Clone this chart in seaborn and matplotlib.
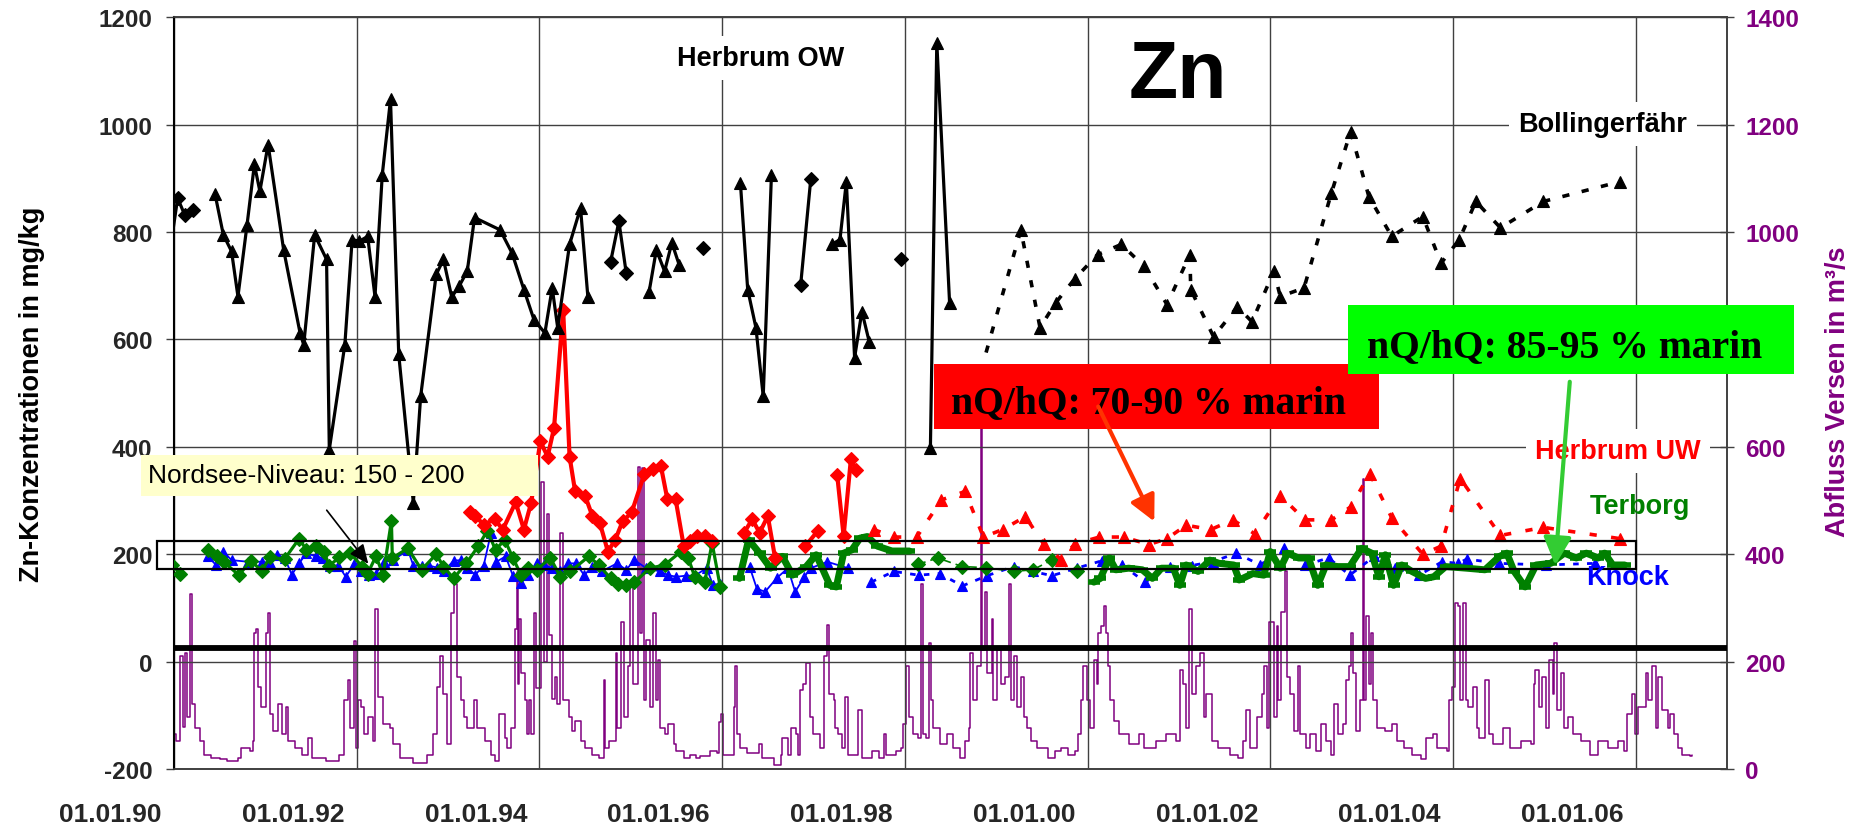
import numpy as np
import pandas as pd
import matplotlib
matplotlib.use("Agg")
import matplotlib.pyplot as plt
import seaborn as sns
from matplotlib.patches import Rectangle, FancyArrowPatch
from matplotlib.transforms import ScaledTranslation

# ---------------- data (decimal years, mg/kg) ----------------
# Herbrum OW (black, solid) segments
ow_d1_x = [1989.96, 1990.04, 1990.12, 1990.21]
ow_d1_y = [770, 863, 831, 842]
ow_t1_x = [1990.45, 1990.54, 1990.63, 1990.70, 1990.80, 1990.88, 1990.94, 1991.03, 1991.20, 1991.38,
           1991.42, 1991.54, 1991.67, 1991.70, 1991.87, 1991.95, 1992.03, 1992.12, 1992.20, 1992.28,
           1992.37, 1992.46, 1992.62, 1992.70, 1992.87, 1992.95, 1993.04, 1993.12, 1993.21, 1993.29,
           1993.57, 1993.70, 1993.83, 1993.94, 1994.06, 1994.14, 1994.20, 1994.33, 1994.45, 1994.53]
ow_t1_y = [870, 795, 764, 680, 814, 926, 876, 963, 767, 612,
           590, 795, 749, 395, 590, 786, 783, 792, 680, 907,
           1047, 572, 296, 494, 721, 749, 679, 699, 727, 827,
           804, 761, 693, 637, 612, 696, 622, 777, 845, 680]
ow_d2_x = [1994.78, 1994.87, 1994.95]
ow_d2_y = [745, 820, 724]
ow_t2_x = [1995.20, 1995.28, 1995.37, 1995.45, 1995.53]
ow_t2_y = [688, 767, 727, 780, 739]
ow_d3_x = [1995.79]
ow_d3_y = [771]
ow_t3_x = [1996.20, 1996.28, 1996.37, 1996.45, 1996.54]
ow_t3_y = [892, 693, 622, 494, 907]
ow_d4_x = [1996.86, 1996.97]
ow_d4_y = [702, 898]
ow_t4_x = [1997.20, 1997.29, 1997.36, 1997.45, 1997.53, 1997.61]
ow_t4_y = [777, 786, 894, 566, 652, 596]
ow_d5_x = [1997.96]
ow_d5_y = [749]
ow_t5_x = [1998.28, 1998.35, 1998.49]
ow_t5_y = [398, 1153, 668]

# Bollingerfaehr (black, dashed)
bf_x = [1998.83, 1999.27, 1999.48, 1999.65, 1999.86, 2000.11, 2000.37, 2000.62, 2000.87, 2001.12,
        2001.13, 2001.38, 2001.64, 2001.80, 2002.04, 2002.11, 2002.37, 2002.67, 2002.88, 2003.08,
        2003.33, 2003.67, 2003.87, 2004.07, 2004.25, 2004.52, 2004.99, 2005.83]
bf_y = [540, 804, 622, 668, 713, 758, 777, 736, 665, 758,
        693, 605, 661, 633, 727, 680, 696, 873, 987, 866,
        792, 829, 742, 786, 857, 808, 857, 894]

# Herbrum UW (red)
uw1_x = [1993.24, 1993.30, 1993.39, 1993.51, 1993.60, 1993.74, 1993.83, 1993.91, 1994.01, 1994.09,
         1994.16, 1994.26, 1994.33, 1994.39, 1994.50, 1994.58, 1994.66, 1994.75, 1994.83, 1994.91,
         1995.01, 1995.15, 1995.24, 1995.33, 1995.40, 1995.49, 1995.58, 1995.65, 1995.72, 1995.81,
         1995.89]
uw1_y = [279, 271, 255, 265, 246, 297, 246, 296, 410, 382,
         435, 655, 382, 318, 309, 271, 259, 205, 227, 261,
         278, 350, 359, 364, 303, 303, 215, 224, 234, 234,
         224]
uw2_x = [1996.24, 1996.33, 1996.41, 1996.50, 1996.58]
uw2_y = [240, 265, 240, 271, 193]
uw3_x = [1996.91, 1997.05]
uw3_y = [215, 244]
uw4_x = [1997.26, 1997.33, 1997.41, 1997.47]
uw4_y = [347, 234, 378, 356]
uw5_x = [1997.66, 1997.88, 1998.13, 1998.40, 1998.66, 1998.86, 1999.07, 1999.32, 1999.52, 1999.71,
         1999.86, 2000.13, 2000.40, 2000.67, 2000.87, 2001.08, 2001.35, 2001.59, 2001.83, 2002.11,
         2002.38, 2002.67, 2002.88, 2003.09, 2003.33, 2003.67, 2003.87, 2004.08, 2004.52, 2004.99,
         2005.83]
uw5_y = [246, 232, 232, 301, 317, 232, 246, 270, 219, 190,
         219, 232, 232, 218, 229, 254, 246, 264, 238, 309,
         264, 264, 288, 350, 268, 200, 215, 341, 235, 250,
         229]

# Terborg (green)
tb0_x = [1989.98, 1990.07]
tb0_y = [180, 164]
tb1_x = [1990.37, 1990.47, 1990.55, 1990.71, 1990.84, 1990.96,
         1991.05, 1991.21, 1991.37, 1991.45, 1991.55, 1991.64, 1991.70, 1991.81, 1991.93,
         1992.06, 1992.12, 1992.21, 1992.29, 1992.38, 1992.39, 1992.56, 1992.71, 1992.87, 1992.95,
         1993.06, 1993.20, 1993.33, 1993.43, 1993.52, 1993.62, 1993.71, 1993.80, 1993.87, 1993.97,
         1994.12, 1994.23, 1994.34, 1994.54, 1994.65, 1994.78, 1994.86, 1994.95,
         1995.04, 1995.21, 1995.37, 1995.55, 1995.63, 1995.70, 1995.81, 1995.89, 1995.98]
tb1_y = [208, 196, 185, 161, 188, 169,
         194, 191, 229, 208, 215, 205, 179, 194, 202,
         177, 164, 196, 162, 262, 193, 211, 171, 200, 177,
         155, 183, 215, 244, 208, 227, 193, 161, 174, 171,
         193, 158, 168, 196, 180, 155, 145, 142,
         148, 174, 180, 205, 193, 158, 148, 221, 139]
tb2_x = [1996.19, 1996.29, 1996.41, 1996.53, 1996.66, 1996.77, 1996.92, 1997.03, 1997.18, 1997.25,
         1997.33, 1997.42, 1997.51, 1997.59, 1997.70, 1997.86, 1998.05]
tb2_y = [155, 227, 202, 174, 196, 161, 177, 199, 142, 139,
         202, 208, 230, 233, 215, 206, 206]
tb3_x = [1998.14, 1998.36, 1998.63, 1998.89, 1999.19, 1999.40, 1999.61, 1999.88]
tb3_y = [181, 193, 177, 175, 168, 171, 189, 168]
tb4_x = [2000.07, 2000.14, 2000.24, 2000.31, 2000.45, 2000.60, 2000.71, 2000.81, 2000.94,
         2001.01, 2001.08, 2001.21, 2001.34, 2001.44, 2001.60, 2001.66, 2001.81, 2001.93,
         2002.00, 2002.11, 2002.19, 2002.31, 2002.42, 2002.52, 2002.61, 2002.74, 2002.87,
         2003.00, 2003.11, 2003.19, 2003.26, 2003.35, 2003.44, 2003.55, 2003.70, 2003.79, 2003.92,
         2004.15, 2004.35, 2004.51, 2004.59, 2004.67, 2004.79, 2004.91,
         2005.07, 2005.22, 2005.35, 2005.46, 2005.59, 2005.66, 2005.75, 2005.88]
tb4_y = [148, 155, 193, 171, 174, 171, 155, 174, 174,
         142, 180, 168, 189, 183, 180, 152, 164, 161,
         205, 174, 202, 193, 193, 142, 180, 177, 177,
         211, 202, 158, 199, 142, 180, 168, 155, 158, 177,
         174, 171, 196, 202, 168, 139, 180,
         183, 202, 193, 202, 193, 202, 180, 180]

# Knock (blue)
kn1_x = [1990.37, 1990.46, 1990.54, 1990.63, 1990.81, 1990.96,
         1991.05, 1991.13, 1991.21, 1991.29, 1991.37, 1991.45, 1991.55, 1991.63, 1991.71, 1991.80, 1991.88, 1991.97,
         1992.05, 1992.14, 1992.21, 1992.30, 1992.40, 1992.56, 1992.62, 1992.71, 1992.79, 1992.88, 1992.96,
         1993.06, 1993.14, 1993.21, 1993.30, 1993.39, 1993.47, 1993.53, 1993.63, 1993.71, 1993.80, 1993.88, 1993.97,
         1994.05, 1994.14, 1994.23, 1994.31, 1994.40, 1994.49, 1994.58, 1994.68, 1994.85, 1994.95,
         1995.04, 1995.17, 1995.32, 1995.41, 1995.50, 1995.60, 1995.70, 1995.83, 1995.90, 1995.98]
kn1_y = [196, 180, 205, 189, 186, 186,
         183, 199, 193, 162, 183, 202, 196, 193, 179, 179, 158, 181,
         169, 162, 164, 186, 189, 208, 179, 179, 179, 175, 169,
         188, 189, 174, 162, 179, 240, 186, 196, 160, 147, 161, 183,
         180, 174, 168, 183, 183, 161, 177, 168, 183, 171,
         189, 174, 168, 161, 158, 160, 160, 174, 143, 145]
kn2_x = [1996.30, 1996.38, 1996.47, 1996.60, 1996.72, 1996.80, 1996.90, 1996.97, 1997.15, 1997.38]
kn2_y = [177, 136, 130, 156, 174, 130, 158, 174, 186, 174]
kn3_x = [1997.63, 1997.88, 1998.15, 1998.38, 1998.63, 1998.90, 1999.19, 1999.40, 1999.61, 1999.88,
         2000.16, 2000.38, 2000.63, 2000.90, 2001.14, 2001.37, 2001.63, 2001.89, 2002.15, 2002.38,
         2002.64, 2002.87, 2003.14, 2003.37, 2003.63, 2003.88, 2004.06, 2004.15, 2004.50, 2005.02,
         2005.55]
kn3_y = [148, 168, 161, 164, 141, 160, 177, 168, 160, 174,
         188, 180, 148, 177, 179, 186, 202, 180, 211, 180,
         193, 161, 196, 174, 161, 186, 183, 191, 183, 180,
         183]

# Abfluss Versen (m3/s), right axis
q_year = [1990.00, 1990.02, 1990.07, 1990.10, 1990.12, 1990.14, 1990.17, 1990.20, 1990.23, 1990.29,
          1990.33, 1990.40, 1990.50, 1990.58, 1990.70, 1990.73, 1990.83, 1990.86, 1990.88, 1990.90,
          1990.92, 1990.95, 1991.01, 1991.03, 1991.05, 1991.08, 1991.14, 1991.18, 1991.23, 1991.25,
          1991.32, 1991.40, 1991.47, 1991.51, 1991.66, 1991.81, 1991.86, 1991.90, 1991.93, 1991.97,
          1991.99, 1992.01, 1992.05, 1992.08, 1992.12, 1992.18, 1992.20, 1992.23, 1992.29, 1992.36,
          1992.40, 1992.47, 1992.62, 1992.77, 1992.84, 1992.88, 1992.91, 1992.95, 1992.99, 1993.03,
          1993.06, 1993.10, 1993.14, 1993.17, 1993.21, 1993.28, 1993.32, 1993.40, 1993.47, 1993.51,
          1993.56, 1993.62, 1993.65, 1993.69, 1993.73, 1993.76, 1993.77, 1993.78, 1993.80, 1993.84,
          1993.86, 1993.89, 1993.91, 1993.94, 1993.96, 1994.02, 1994.05, 1994.08, 1994.10, 1994.14,
          1994.17, 1994.19, 1994.23, 1994.26, 1994.32, 1994.36, 1994.39, 1994.45, 1994.50, 1994.58,
          1994.65, 1994.71, 1994.72, 1994.76, 1994.80, 1994.84, 1994.85, 1994.89, 1994.93, 1994.97,
          1994.99, 1995.02, 1995.08, 1995.10, 1995.12, 1995.15, 1995.17, 1995.21, 1995.24, 1995.28,
          1995.30, 1995.32, 1995.37, 1995.41, 1995.47, 1995.50, 1995.58, 1995.65, 1995.71, 1995.76,
          1995.87, 1995.94, 1995.97, 1995.99, 1996.01, 1996.11, 1996.13, 1996.14, 1996.16, 1996.20,
          1996.27, 1996.40, 1996.44, 1996.53, 1996.57, 1996.64, 1996.66, 1996.72, 1996.75, 1996.81,
          1996.83, 1996.85, 1996.88, 1996.92, 1996.96, 1997.00, 1997.07, 1997.12, 1997.14, 1997.15,
          1997.17, 1997.22, 1997.24, 1997.27, 1997.31, 1997.35, 1997.38, 1997.42, 1997.49, 1997.53,
          1997.64, 1997.72, 1997.77, 1997.79, 1997.90, 1997.96, 1997.98, 1998.01, 1998.05, 1998.09,
          1998.14, 1998.18, 1998.20, 1998.23, 1998.27, 1998.29, 1998.31, 1998.38, 1998.46, 1998.53,
          1998.60, 1998.66, 1998.70, 1998.71, 1998.75, 1998.79, 1998.83, 1998.84, 1998.88, 1998.90,
          1998.95, 1998.97, 1999.01, 1999.05, 1999.10, 1999.14, 1999.16, 1999.20, 1999.23, 1999.27,
          1999.31, 1999.34, 1999.38, 1999.45, 1999.57, 1999.64, 1999.71, 1999.79, 1999.86, 1999.90,
          1999.93, 1999.95, 1999.99, 2000.03, 2000.07, 2000.10, 2000.12, 2000.15, 2000.18, 2000.20,
          2000.22, 2000.25, 2000.29, 2000.34, 2000.45, 2000.56, 2000.62, 2000.75, 2000.86, 2000.97,
          2001.01, 2001.04, 2001.08, 2001.11, 2001.14, 2001.19, 2001.23, 2001.27, 2001.30, 2001.36,
          2001.43, 2001.48, 2001.56, 2001.65, 2001.70, 2001.74, 2001.78, 2001.85, 2001.91, 2001.93,
          2001.96, 2001.99, 2002.04, 2002.07, 2002.09, 2002.12, 2002.16, 2002.18, 2002.22, 2002.26,
          2002.30, 2002.33, 2002.39, 2002.44, 2002.50, 2002.56, 2002.61, 2002.67, 2002.70, 2002.74,
          2002.80, 2002.83, 2002.86, 2002.88, 2002.91, 2002.94, 2002.98, 2003.01, 2003.03, 2003.05,
          2003.08, 2003.10, 2003.13, 2003.17, 2003.26, 2003.33, 2003.39, 2003.46, 2003.55, 2003.65,
          2003.70, 2003.78, 2003.83, 2003.89, 2003.94, 2003.96, 2003.99, 2004.02, 2004.05, 2004.08,
          2004.11, 2004.14, 2004.16, 2004.22, 2004.26, 2004.29, 2004.35, 2004.39, 2004.44, 2004.55,
          2004.63, 2004.74, 2004.85, 2004.89, 2004.90, 2004.94, 2004.98, 2005.02, 2005.05, 2005.09,
          2005.11, 2005.14, 2005.18, 2005.22, 2005.26, 2005.31, 2005.40, 2005.50, 2005.59, 2005.70,
          2005.81, 2005.87, 2005.90, 2005.96, 2005.99, 2006.03, 2006.11, 2006.14, 2006.18, 2006.22,
          2006.25, 2006.29, 2006.35, 2006.38, 2006.42, 2006.46, 2006.51, 2006.59, 2006.62]
q_val = [65, 52, 210, 78, 216, 96, 325, 121, 77, 52,
         27, 21, 18, 14, 21, 40, 33, 52, 254, 260,
         153, 115, 254, 291, 102, 71, 121, 65, 115, 52,
         40, 27, 58, 21, 14, 27, 128, 165, 77, 238,
         40, 128, 115, 65, 96, 52, 298, 134, 84, 77,
         46, 21, 11, 27, 65, 153, 210, 140, 46, 291,
         345, 172, 128, 96, 77, 128, 77, 52, 27, 14,
         102, 58, 40, 77, 260, 366, 159, 279, 178, 128,
         65, 128, 65, 291, 150, 535, 200, 475, 250, 130,
         172, 121, 440, 128, 96, 71, 90, 52, 40, 27,
         21, 165, 40, 52, 52, 216, 77, 273, 96, 191,
         340, 159, 562, 254, 560, 128, 241, 115, 291, 128,
         203, 77, 65, 84, 46, 33, 21, 27, 21, 24,
         33, 30, 87, 102, 27, 27, 115, 191, 65, 40,
         30, 46, 21, 21, 8, 27, 58, 27, 77, 65,
         27, 147, 159, 197, 96, 65, 40, 210, 210, 269,
         140, 128, 77, 65, 40, 134, 27, 27, 109, 21,
         33, 21, 65, 27, 33, 40, 84, 191, 96, 65,
         58, 345, 65, 58, 235, 128, 77, 46, 65, 40,
         21, 52, 77, 216, 128, 191, 640, 222, 330, 178,
         279, 128, 222, 159, 172, 345, 128, 210, 115, 172,
         96, 77, 52, 40, 21, 33, 40, 27, 33, 65,
         128, 191, 128, 77, 203, 159, 254, 266, 304, 254,
         191, 128, 90, 65, 46, 65, 40, 52, 65, 52,
         184, 159, 77, 298, 140, 191, 216, 96, 140, 52,
         40, 40, 27, 21, 52, 109, 40, 96, 140, 191,
         77, 273, 96, 266, 128, 292, 369, 172, 140, 71,
         191, 65, 40, 65, 33, 84, 52, 27, 121, 65,
         84, 165, 191, 254, 178, 71, 128, 540, 128, 285,
         159, 254, 128, 77, 71, 84, 52, 40, 27, 18,
         58, 65, 40, 40, 33, 128, 153, 310, 304, 128,
         310, 128, 115, 153, 77, 58, 165, 65, 46, 77,
         40, 52, 46, 159, 184, 115, 172, 77, 203, 140,
         235, 109, 178, 77, 96, 65, 52, 27, 52, 40,
         52, 33, 102, 140, 65, 115, 178, 128, 191, 77,
         172, 109, 77, 102, 65, 40, 27, 24, 27]

x_ticks = [1990, 1992, 1994, 1996, 1998, 2000, 2002, 2004, 2006]
x_labels = ["01.01.90", "01.01.92", "01.01.94", "01.01.96", "01.01.98",
            "01.01.00", "01.01.02", "01.01.04", "01.01.06"]
y_ticks = [-200, 0, 200, 400, 600, 800, 1000, 1200]
y2_ticks = [0, 200, 400, 600, 800, 1000, 1200, 1400]

# ---------------- figure ----------------
sns.set_style("white")
plt.rcParams["font.family"] = ["Liberation Sans", "DejaVu Sans"]

W, H = 1856, 828
fig = plt.figure(figsize=(W / 100, H / 100), dpi=100)
fig.patch.set_facecolor("white")


def fx(px):
    return px / W


def fy(py):
    return 1 - py / H


ax = fig.add_axes([fx(174), fy(770), fx(1727) - fx(174), fy(18.3) - fy(770)])
ax2 = ax.twinx()
ax.set_zorder(ax2.get_zorder() + 1)
ax.patch.set_visible(False)

PURPLE = "#800080"
GRID = "#404040"

# discharge (stepped daily-style trace)
sns.lineplot(x=q_year, y=q_val, ax=ax2, color=PURPLE, linewidth=1.1, drawstyle="steps-post",
             estimator=None, sort=False, legend=False)
ax2.set_ylim(0, 1400)
ax2.set_yticks(y2_ticks)
ax2.set_yticklabels([str(v) for v in y2_ticks], color=PURPLE, fontsize=17.5, fontweight="bold")
ax2.tick_params(axis="y", direction="inout", length=10, width=1, color=GRID, pad=8)
ax2.set_ylabel("")


def seg(x, y, color, lw, ls="-", marker=None, ms=8, zorder=3, mew=0.8, markevery=None):
    sns.lineplot(x=x, y=y, ax=ax, color=color, linewidth=lw, linestyle=ls,
                 marker=marker, markersize=ms, markeredgewidth=mew,
                 markeredgecolor=color, markerfacecolor=color, markevery=markevery,
                 estimator=None, sort=False, legend=False, zorder=zorder)


# Knock
seg(kn1_x, kn1_y, "#0000FF", 1.3, "-", "^", 7.5, 4)
seg(kn2_x, kn2_y, "#0000FF", 1.3, "-", "^", 7.5, 4)
seg(kn3_x, kn3_y, "#0000FF", 2.0, (0, (2, 3)), "^", 7.5, 4)
# Terborg
seg(tb0_x, tb0_y, "#008000", 2.3, "-", "D", 7, 5)
seg(tb1_x, tb1_y, "#008000", 2.3, "-", "D", 7, 5)
seg(tb2_x, tb2_y, "#008000", 5.0, "-", "_", 9, 5, mew=4)
seg(tb3_x, tb3_y, "#008000", 1.2, (0, (5, 3)), "D", 7, 5)
seg(tb4_x, tb4_y, "#008000", 5.0, "-", "_", 9, 5, mew=4)
# Herbrum UW
for xs, ys in [(uw1_x, uw1_y), (uw2_x, uw2_y), (uw3_x, uw3_y), (uw4_x, uw4_y)]:
    seg(xs, ys, "#FF0000", 3.0, "-", "D", 7, 6)
seg(uw5_x, uw5_y, "#FF0000", 2.6, (0, (2, 4)), "^", 9, 6)
# Herbrum OW
seg(ow_d1_x, ow_d1_y, "black", 2.3, "-", "D", 7, 7, markevery=[1, 2, 3])
for xs, ys, mk in [(ow_t1_x, ow_t1_y, "^"), (ow_d2_x, ow_d2_y, "D"),
                   (ow_t2_x, ow_t2_y, "^"), (ow_d3_x, ow_d3_y, "D"), (ow_t3_x, ow_t3_y, "^"),
                   (ow_d4_x, ow_d4_y, "D"), (ow_t4_x, ow_t4_y, "^"), (ow_d5_x, ow_d5_y, "D"),
                   (ow_t5_x, ow_t5_y, "^")]:
    seg(xs, ys, "black", 2.3, "-", mk, 8.5 if mk == "^" else 7, 7)
seg(bf_x, bf_y, "black", 2.6, (0, (2, 3.5)), "^", 8.5, 7)

# thick reference line
ax.axhline(25, color="black", linewidth=4.2, zorder=8)

# Nordsee-Niveau box
ax.add_patch(Rectangle((1989.81, 173), 2006.0 - 1989.81, 224 - 173, fill=False,
                       edgecolor="black", linewidth=1.6, clip_on=False, zorder=9))

ax.set_xlim(1990, 2007)
ax.set_ylim(-200, 1200)
ax.set_xticks(x_ticks)
ax.set_xticklabels(x_labels, fontsize=19, fontweight="bold")
ax.set_yticks(y_ticks)
ax.set_yticklabels([str(v) for v in y_ticks], fontsize=17.5, fontweight="bold")
ax.tick_params(axis="x", direction="out", length=5, width=1, color=GRID, pad=19)
ax.tick_params(axis="y", direction="out", length=5.5, width=1, color=GRID, pad=10)
ax.set_xlabel("")
ax.set_ylabel("")
offset = ScaledTranslation(-0.12, 0, fig.dpi_scale_trans)
for lab in ax.get_xticklabels():
    lab.set_horizontalalignment("right")
    lab.set_transform(lab.get_transform() + offset)

ax.grid(True, color=GRID, linewidth=1.0)
ax2.grid(False)
for a in (ax, ax2):
    for s in a.spines.values():
        s.set_color(GRID)
        s.set_linewidth(1.2)
ax.spines["left"].set_color("black")
ax.spines["left"].set_linewidth(1.5)

# axis titles
fig.text(fx(32), fy(394), "Zn-Konzentrationen in mg/kg", rotation=90, ha="center", va="center",
         fontsize=19.5, fontweight="bold", color="black")
fig.text(fx(1838), fy(392), "Abfluss Versen in m³/s", rotation=90, ha="center", va="center",
         fontsize=19.5, fontweight="bold", color=PURPLE)

# station labels
wbox = dict(boxstyle="square,pad=0.35", facecolor="white", edgecolor="none")
fig.text(fx(761), fy(59), "Herbrum OW", ha="center", va="center", fontsize=19.5,
         fontweight="bold", color="black", bbox=wbox, zorder=10)
fig.text(fx(1178), fy(77), "Zn", ha="center", va="center", fontsize=58,
         fontweight="bold", color="black", zorder=10)
fig.text(fx(1603), fy(125), "Bollingerfähr", ha="center", va="center", fontsize=19.5,
         fontweight="bold", color="black", bbox=wbox, zorder=10)
fig.text(fx(1618), fy(452), "Herbrum UW", ha="center", va="center", fontsize=19.5,
         fontweight="bold", color="#FF0000", bbox=wbox, zorder=10)
fig.text(fx(1640), fy(507), "Terborg", ha="center", va="center", fontsize=19.5,
         fontweight="bold", color="#008000", zorder=10)
fig.text(fx(1628), fy(578), "Knock", ha="center", va="center", fontsize=19.5,
         fontweight="bold", color="#0000FF", zorder=10)

# nQ/hQ boxes
fig.add_artist(Rectangle((fx(934), fy(430)), fx(1379) - fx(934), fy(365) - fy(430),
                         transform=fig.transFigure, facecolor="#FF0000", edgecolor="none", zorder=11))
fig.text(fx(951), fy(413), "nQ/hQ: 70-90 % marin", ha="left", va="baseline", fontsize=28.5,
         fontweight="bold", family=["Liberation Serif", "DejaVu Serif"], color="black", zorder=12)
fig.add_artist(Rectangle((fx(1348.5), fy(375)), fx(1794) - fx(1348.5), fy(306) - fy(375),
                         transform=fig.transFigure, facecolor="#00FF00", edgecolor="none", zorder=13))
fig.text(fx(1367), fy(357), "nQ/hQ: 85-95 % marin", ha="left", va="baseline", fontsize=28.5,
         fontweight="bold", family=["Liberation Serif", "DejaVu Serif"], color="black", zorder=14)

# arrows
fig.add_artist(FancyArrowPatch((fx(1097), fy(405)), (fx(1155.5), fy(525)), transform=fig.transFigure,
                               arrowstyle="-|>,head_length=12,head_width=6", mutation_scale=1.3,
                               color="#FF3300", linewidth=3.0, zorder=15))
fig.add_artist(FancyArrowPatch((fx(1570), fy(380)), (fx(1555), fy(569)), transform=fig.transFigure,
                               arrowstyle="-|>,head_length=13,head_width=6.5", mutation_scale=1.3,
                               color="#33CC33", linewidth=3.0, zorder=15))

# Nordsee label
fig.add_artist(Rectangle((fx(141.5), fy(497)), fx(537.7) - fx(141.5), fy(456) - fy(497),
                         transform=fig.transFigure, facecolor="#FFFFCC", edgecolor="none", zorder=11))
fig.text(fx(148), fy(476), "Nordsee-Niveau: 150 - 200", ha="left", va="center", fontsize=19,
         color="black", zorder=12)
fig.add_artist(FancyArrowPatch((fx(325), fy(509)), (fx(370), fy(567)), transform=fig.transFigure,
                               arrowstyle="-|>,head_length=9,head_width=4", mutation_scale=1.3,
                               color="black", linewidth=1.2, zorder=15))

fig.savefig("out.png", dpi=100, facecolor="white")
